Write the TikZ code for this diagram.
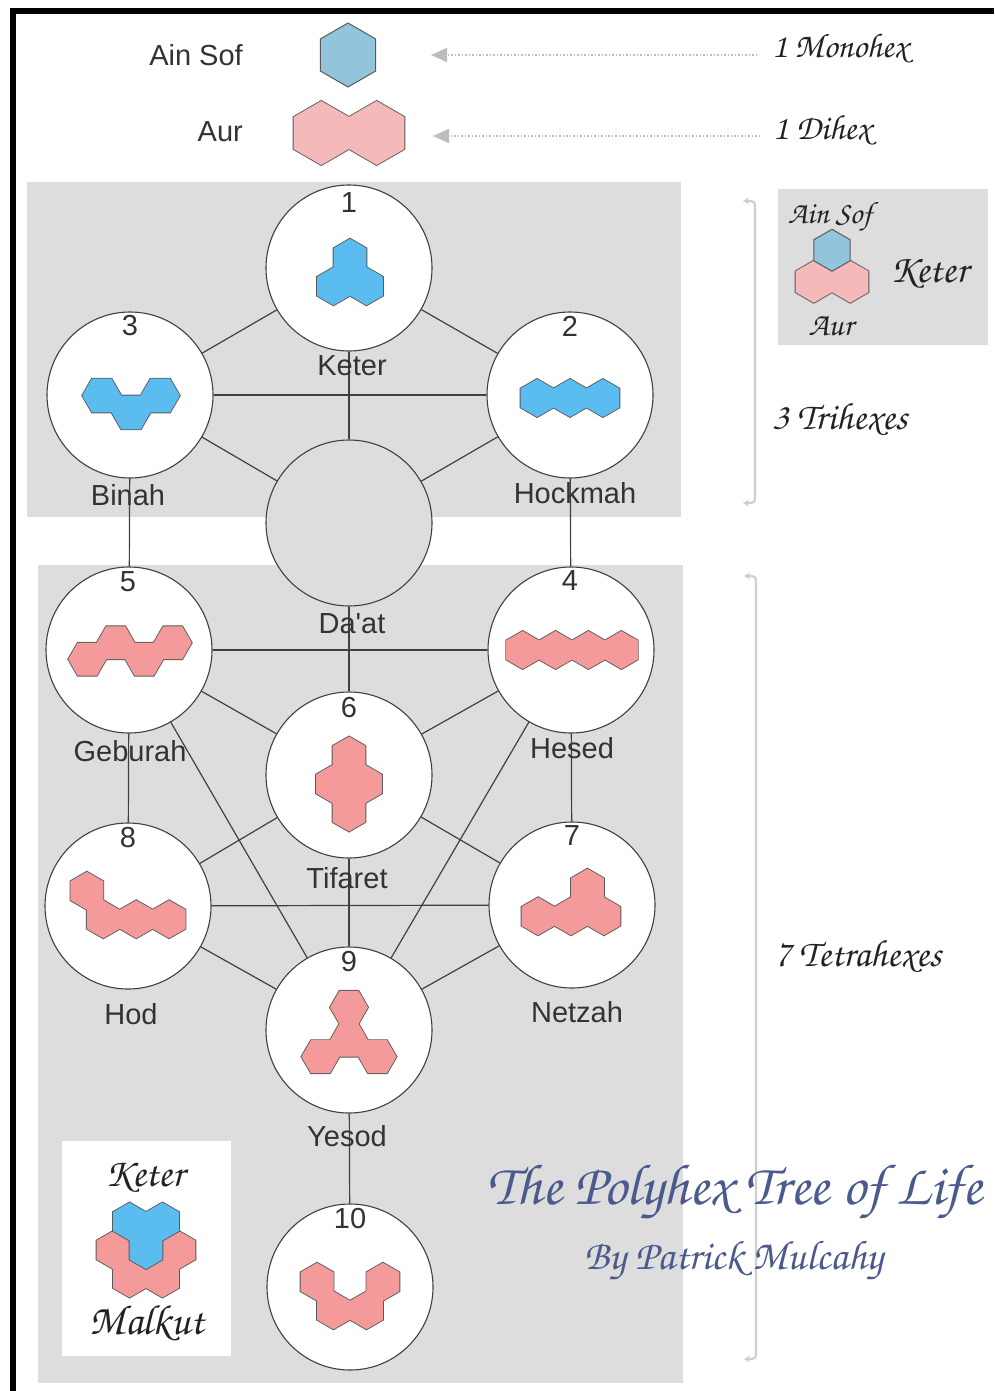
\documentclass[tikz,border=0pt]{standalone}
\usepackage{fontspec}
\usepackage{graphicx}
\setmainfont{Liberation Sans}[Ligatures=TeXOff]
\newfontfamily\handserif{Liberation Serif}
\IfFontExistsTF{texgyrechorus-mediumitalic.otf}
  {\newfontfamily\handfam{texgyrechorus-mediumitalic.otf}\newcommand\hand{\handfam}}
  {\newcommand\hand{\handserif\itshape}}
\usetikzlibrary{arrows.meta}
\definecolor{boxgray}{HTML}{DDDDDD}
\definecolor{lineg}{HTML}{404040}
\definecolor{hexline}{HTML}{5A5A5A}
\definecolor{tblue}{HTML}{5BBDEF}
\definecolor{tpink}{HTML}{F59A9A}
\definecolor{lblue}{HTML}{92C5DC}
\definecolor{lpink}{HTML}{F5B9B9}
\definecolor{arrowg}{HTML}{BDBDBD}
\definecolor{braceg}{HTML}{CFCFCF}
\definecolor{titleblue}{HTML}{4A5A8C}
\definecolor{textg}{HTML}{333333}
\definecolor{handg}{HTML}{222222}
\newcommand\sethex[1]{\pgfmathsetmacro\hxR{#1}\pgfmathsetmacro\hxW{1.7320508*#1}\pgfmathsetmacro\hxV{1.5*#1}}
\newcommand\HexP[2]{(#1*\hxW,#2*\hxV) +(30:\hxR) -- +(90:\hxR) -- +(150:\hxR) -- +(210:\hxR) -- +(270:\hxR) -- +(330:\hxR) -- cycle}
\newcommand\HexF[2]{(#1*\hxV,#2*\hxW) +(0:\hxR) -- +(60:\hxR) -- +(120:\hxR) -- +(180:\hxR) -- +(240:\hxR) -- +(300:\hxR) -- cycle}
\newcommand\PolyU[2]{\draw[draw=hexline,line width=1.8pt,line join=miter] #2; \fill[#1] #2;}
\tikzset{
  sefira/.style={circle, draw=lineg, line width=1.1pt, fill=white, minimum size=166pt, inner sep=0pt},
  treeline/.style={draw=lineg, line width=1.2pt},
  lab/.style={font={\fontsize{29}{32}\selectfont}, text=textg, inner sep=0pt},
  handtxt/.style={inner sep=0pt, text=handg},
  dotline/.style={draw=arrowg, line width=1.4pt, dash pattern=on 1.5pt off 2pt, -{Triangle[length=16pt,width=14pt,fill=arrowg]}},
  bracket/.style={draw=braceg, line width=2.2pt, rounded corners=4pt, {Stealth[length=6pt,width=7pt]}-{Stealth[length=6pt,width=7pt]}}
}
\begin{document}
\begin{tikzpicture}[x=1pt,y=-1pt]
\useasboundingbox (0,0) rectangle (994,1391);
\fill[white] (0,0) rectangle (994,1391);
% grey panels
\fill[boxgray] (27,182) rectangle (681,517);
\fill[boxgray] (38,565) rectangle (683,1383);
\fill[boxgray] (778,189) rectangle (988,345);
\fill[white] (62,1141) rectangle (231,1356);
% frame
\draw[line width=6pt, line join=miter] (13,1391) -- (13,11) -- (994,11);

% top: Ain Sof and Aur
\node[lab, anchor=east] (ainsof) at (243,55) {Ain Sof};
\node[lab, anchor=east] (aur) at (243,132) {Aur};
\begin{scope}[shift={(348,55)}]
  \sethex{32}
  \draw[draw=hexline, fill=lblue, line width=1pt] \HexP{0}{0};
\end{scope}
\begin{scope}[shift={(349,133)}]
  \sethex{32}
  \PolyU{lpink}{\HexP{-0.5}{0} \HexP{0.5}{0}}
\end{scope}
\node[handtxt] (tmono) at (840,49) {\resizebox{136pt}{!}{\hand 1 Monohex}};
\node[handtxt] (tdi) at (822,130) {\resizebox{98pt}{!}{\hand 1 Dihex}};
\coordinate (ma) at (757,55); \coordinate (mb) at (431,55);
\coordinate (da) at (760,136); \coordinate (db) at (433,136);
\draw[dotline] (ma) -- (mb);
\draw[dotline] (da) -- (db);

% right legend
\begin{scope}[shift={(832,266)}]
  \sethex{21}
  \PolyU{lpink}{\HexP{-0.5}{0.5} \HexP{0.5}{0.5}}
  \draw[draw=hexline, fill=lblue, line width=1pt] \HexP{0}{-0.5};
\end{scope}
\node[handtxt] (lgain) at (830,217) {\resizebox{84pt}{!}{\hand Ain Sof}};
\node[handtxt] (lgketer) at (929,274) {\resizebox{78pt}{!}{\hand Keter}};
\node[handtxt] (lgaur) at (831,326) {\resizebox{45pt}{!}{\hand Aur}};
\node[handtxt] (ttri) at (840,420) {\resizebox{135pt}{!}{\hand 3 Trihexes}};
\node[handtxt] (ttetra) at (858,957) {\resizebox{167pt}{!}{\hand 7 Tetrahexes}};
\coordinate (b1t) at (743,201); \coordinate (b1b) at (743,503);
\coordinate (b2t) at (744,576); \coordinate (b2b) at (744,1359);
\draw[bracket] (b1t) -- ++(12,0) |- (b1b);
\draw[bracket] (b2t) -- ++(12,0) |- (b2b);

% sefirot
\node[sefira] (keter) at (349,268) {};
\node[sefira] (hockmah) at (570,395) {};
\node[sefira] (binah) at (130,395) {};
\node[sefira, fill=boxgray] (daat) at (349,523) {};
\node[sefira] (hesed) at (571,650) {};
\node[sefira] (geburah) at (129,650) {};
\node[sefira] (tifaret) at (349,775) {};
\node[sefira] (netzah) at (572,905) {};
\node[sefira] (hod) at (128,906) {};
\node[sefira] (yesod) at (349,1030) {};
\node[sefira] (malkut) at (350,1287) {};

% paths
\foreach \a/\b in {keter/binah, keter/hockmah, keter/daat, binah/hockmah, binah/daat, hockmah/daat,
  binah/geburah, hockmah/hesed, daat/tifaret, geburah/hesed, geburah/tifaret, hesed/tifaret,
  geburah/yesod, hesed/yesod, geburah/hod, hesed/netzah, tifaret/hod, tifaret/netzah,
  hod/netzah, tifaret/yesod, hod/yesod, netzah/yesod, yesod/malkut}
  \draw[treeline] (\a) -- (\b);

% numbers
\node[lab] (n1) at (349,203) {1};
\node[lab] (n2) at (570,326) {2};
\node[lab] (n3) at (130,326) {3};
\node[lab] (n4) at (570,581) {4};
\node[lab] (n5) at (128,582) {5};
\node[lab] (n6) at (349,708) {6};
\node[lab] (n7) at (572,836) {7};
\node[lab] (n8) at (128,838) {8};
\node[lab] (n9) at (349,962) {9};
\node[lab] (n10) at (350,1219) {10};
% names
\node[lab] (l1) at (352,366) {Keter};
\node[lab] (l3) at (128,495) {Binah};
\node[lab] (l2) at (575,493) {Hockmah};
\node[lab] (ld) at (352,624) {Da'at};
\node[lab] (l5) at (130,751) {Geburah};
\node[lab] (l4) at (572,748) {Hesed};
\node[lab] (l6) at (347,878) {Tifaret};
\node[lab] (l8) at (131,1014) {Hod};
\node[lab] (l7) at (577,1012) {Netzah};
\node[lab] (l9) at (347,1136) {Yesod};

% polyhexes in the sefirot
\begin{scope}[shift={(350,272)}] \sethex{19}
  \PolyU{tblue}{\HexP{0}{-0.5} \HexP{-0.5}{0.5} \HexP{0.5}{0.5}} \end{scope}
\begin{scope}[shift={(570,398)}] \sethex{19}
  \PolyU{tblue}{\HexP{-1}{0} \HexP{0}{0} \HexP{1}{0}} \end{scope}
\begin{scope}[shift={(131,404)}] \sethex{19.5}
  \PolyU{tblue}{\HexF{-1}{-0.25} \HexF{0}{0.25} \HexF{1}{-0.25}} \end{scope}
\begin{scope}[shift={(572,650)}] \sethex{19}
  \PolyU{tpink}{\HexP{-1.5}{0} \HexP{-0.5}{0} \HexP{0.5}{0} \HexP{1.5}{0}} \end{scope}
\begin{scope}[shift={(130,651)}] \sethex{19}
  \PolyU{tpink}{\HexF{-1.5}{0.25} \HexF{-0.5}{-0.25} \HexF{0.5}{0.25} \HexF{1.5}{-0.25}} \end{scope}
\begin{scope}[shift={(349,784)}] \sethex{19}
  \PolyU{tpink}{\HexP{0}{-1} \HexP{-0.5}{0} \HexP{0.5}{0} \HexP{0}{1}} \end{scope}
\begin{scope}[shift={(571,902)}] \sethex{19}
  \PolyU{tpink}{\HexP{-1}{0.5} \HexP{0}{0.5} \HexP{1}{0.5} \HexP{0.5}{-0.5}} \end{scope}
\begin{scope}[shift={(128,905)}] \sethex{19}
  \PolyU{tpink}{\HexP{-1.25}{-0.5} \HexP{-0.75}{0.5} \HexP{0.25}{0.5} \HexP{1.25}{0.5}} \end{scope}
\begin{scope}[shift={(349,1032)}] \sethex{19}
  \PolyU{tpink}{\HexF{0}{-0.75} \HexF{0}{0.25} \HexF{-1}{0.75} \HexF{1}{0.75}} \end{scope}
\begin{scope}[shift={(350,1296)}] \sethex{19}
  \PolyU{tpink}{\HexP{-1}{-0.5} \HexP{1}{-0.5} \HexP{-0.5}{0.5} \HexP{0.5}{0.5}} \end{scope}

% Keter + Malkut legend
\begin{scope}[shift={(146,1250)}] \sethex{19}
  \PolyU{tpink}{\HexP{-1}{0} \HexP{1}{0} \HexP{-0.5}{1} \HexP{0.5}{1}}
  \PolyU{tblue}{\HexP{-0.5}{-1} \HexP{0.5}{-1} \HexP{0}{0}}
\end{scope}
\node[handtxt] (mlketer) at (145,1178) {\resizebox{79pt}{!}{\hand Keter}};
\node[handtxt] (mlmalkut) at (147,1323) {\resizebox{115pt}{!}{\hand Malkut}};

% title
\node[inner sep=0pt, text=titleblue] (title) at (735,1192) {\resizebox{494pt}{!}{\hand The Polyhex Tree of Life}};
\node[inner sep=0pt, text=titleblue] (subtitle) at (734,1261) {\resizebox{298pt}{!}{\hand By Patrick Mulcahy}};
\end{tikzpicture}
\end{document}
